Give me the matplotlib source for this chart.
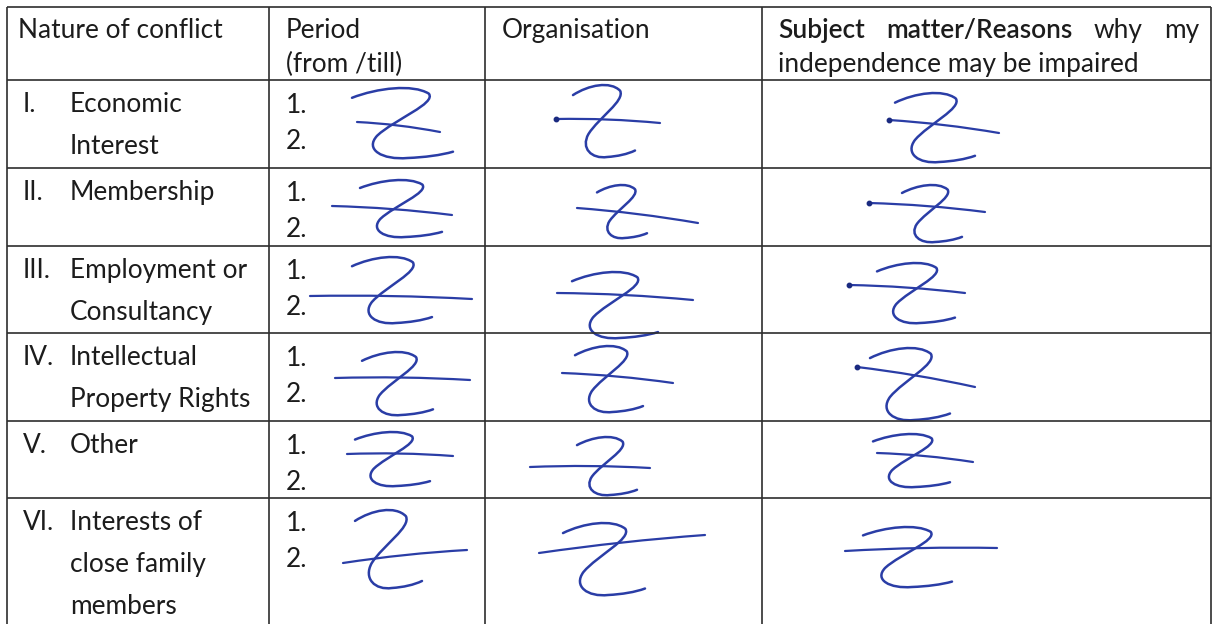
import matplotlib
matplotlib.use("Agg")
import matplotlib.pyplot as plt
from matplotlib.path import Path
from matplotlib.patches import PathPatch

# ---------------- content ----------------
header_nature = ["Nature of conflict"]
header_period = ["Period", "(from /till)"]
header_org = ["Organisation"]
header_subject_bold = ["Subject", "matter/Reasons"]
header_subject_rest = ["why", "my"]
header_subject_line2 = "independence may be impaired"

roman = ["I.", "II.", "III.", "IV.", "V.", "VI."]
categories = [
    ["Economic", "Interest"],
    ["Membership"],
    ["Employment or", "Consultancy"],
    ["Intellectual", "Property Rights"],
    ["Other"],
    ["Interests of", "close family", "members"],
]
entry_numbers = ["1.", "2."]

# ---------------- layout (pixels) ----------------
W, H = 1213, 624
col_x = [7, 269, 485, 762, 1211]
row_y = [7, 80, 168, 246, 333, 421, 498]
table_bottom = 624

# handwritten "Z" strike marks: body box (x0, y0, x1, y1) and cross stroke (xa, ya, xb, yb)
z_boxes = {
    "period": [(352, 88, 453, 158), (360, 180, 442, 237), (352, 257, 432, 323),
               (362, 352, 433, 415), (355, 432, 430, 486), (355, 510, 422, 588)],
    "org": [(573, 85, 635, 157), (597, 185, 647, 238), (572, 272, 658, 338),
            (575, 346, 643, 412), (577, 437, 637, 495), (563, 523, 645, 595)],
    "subject": [(895, 93, 975, 162), (902, 185, 962, 242), (877, 263, 955, 323),
                (870, 348, 950, 420), (873, 434, 950, 487), (863, 527, 952, 587)],
}
z_cross = {
    "period": [(357, 122, 440, 132), (332, 206, 452, 215), (310, 296, 472, 299),
               (335, 378, 470, 380), (347, 454, 453, 456), (343, 563, 467, 550)],
    "org": [(556, 119, 660, 123), (577, 208, 698, 223), (557, 293, 693, 300),
            (562, 373, 673, 383), (530, 467, 650, 468), (539, 553, 705, 535)],
    "subject": [(889, 120, 999, 133), (869, 203, 985, 212), (849, 285, 965, 293),
                (857, 367, 975, 387), (877, 453, 973, 462), (845, 551, 997, 548)],
}
dotted_cross = {("org", 0), ("subject", 0), ("subject", 1), ("subject", 2), ("subject", 3)}

LINE_COLOR = "#2e2e2e"
TEXT_COLOR = "#1c1c1c"
INK = "#2a3da6"
FONT = ["Lato", "DejaVu Sans"]

fig = plt.figure(figsize=(W / 100, H / 100), dpi=100)
ax = fig.add_axes([0, 0, 1, 1])
ax.set_xlim(0, W)
ax.set_ylim(H, 0)
ax.axis("off")
fig.patch.set_facecolor("white")

# --- font size chosen so that "Organisation" spans ~148 px ---
renderer = fig.canvas.get_renderer()
probe = ax.text(0, 0, "Organisation", fontsize=10, family=FONT)
pw = probe.get_window_extent(renderer).width
probe.remove()
FS = 10 * 148 / pw


def txt(x, y, s, **kw):
    return ax.text(x, y, s, fontsize=kw.pop("fontsize", FS), family=FONT,
                   color=TEXT_COLOR, ha="left", va="baseline", **kw)


# ---------------- grid ----------------
for x in col_x:
    ax.plot([x, x], [row_y[0], table_bottom], color=LINE_COLOR, lw=1.2,
            solid_capstyle="butt")
for y in row_y:
    ax.plot([col_x[0], col_x[-1]], [y, y], color=LINE_COLOR, lw=1.2,
            solid_capstyle="butt")

# ---------------- header ----------------
hb1, hb2 = 38, 72
txt(18, hb1, header_nature[0])
txt(286, hb1, header_period[0])
txt(286, hb2, header_period[1])
txt(502, hb1, header_org[0])

# justified first line of the subject header
words = header_subject_bold + header_subject_rest
weights = ["semibold"] * len(header_subject_bold) + ["normal"] * len(header_subject_rest)
left, right = 778, 1199
widths = []
for w_, wt in zip(words, weights):
    t = ax.text(0, 0, w_, fontsize=FS, family=FONT, fontweight=wt)
    widths.append(t.get_window_extent(renderer).width)
    t.remove()
gap = (right - left - sum(widths)) / (len(words) - 1)
x = left
for w_, wt, wd in zip(words, weights, widths):
    txt(x, hb1, w_, fontweight=wt)
    x += wd + gap
txt(778, hb2, header_subject_line2)

# ---------------- body rows ----------------
for i, (rn, lines) in enumerate(zip(roman, categories)):
    top = row_y[i + 1]
    txt(23, top + 32, rn)
    for j, line in enumerate(lines):
        txt(70, top + 32 + 42 * j, line)
    for j, num in enumerate(entry_numbers):
        txt(286, top + 33 + 36 * j, num)

# ---------------- handwritten Z marks ----------------
tmpl = [(0.0, 0.14),
        (0.25, 0.0), (0.6, -0.06), (0.76, 0.08),
        (0.84, 0.22), (0.42, 0.45), (0.25, 0.68),
        (0.12, 0.88), (0.3, 1.03), (0.55, 1.0),
        (0.72, 0.99), (0.88, 0.96), (1.0, 0.91)]
codes = [Path.MOVETO] + [Path.CURVE4] * 12

for key in ["period", "org", "subject"]:
    for k, (x0, y0, x1, y1) in enumerate(z_boxes[key]):
        verts = [(x0 + u * (x1 - x0), y0 + v * (y1 - y0)) for u, v in tmpl]
        ax.add_patch(PathPatch(Path(verts, codes), fill=False, edgecolor=INK,
                               lw=1.8, capstyle="round", joinstyle="round"))
        xa, ya, xb, yb = z_cross[key][k]
        cverts = [(xa, ya), ((xa + xb) / 2, (ya + yb) / 2 - 3), (xb, yb)]
        ax.add_patch(PathPatch(Path(cverts, [Path.MOVETO, Path.CURVE3, Path.CURVE3]),
                               fill=False, edgecolor=INK, lw=1.6, capstyle="round"))
        if (key, k) in dotted_cross:
            ax.plot([xa], [ya], "o", color="#1a2a80", ms=3.2)

fig.savefig("out.png", dpi=100, facecolor="white")
